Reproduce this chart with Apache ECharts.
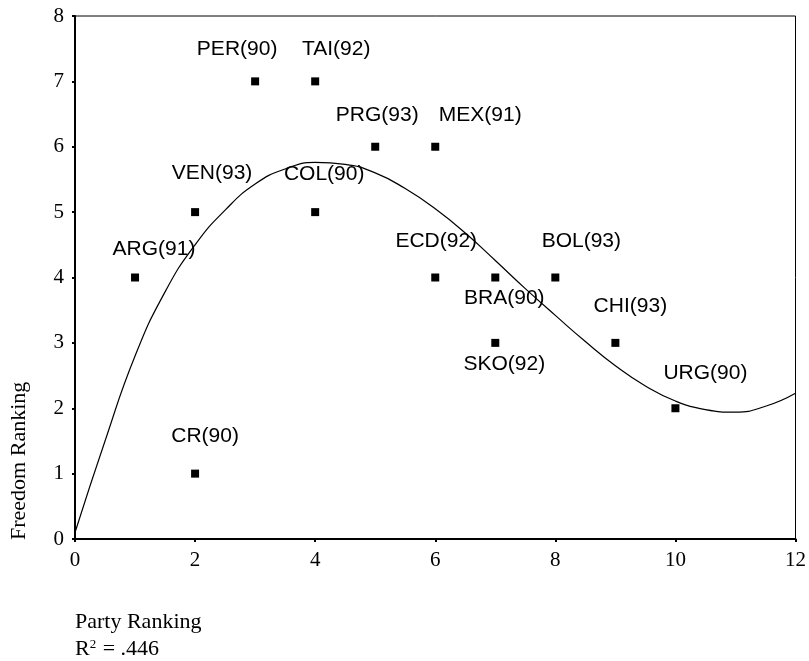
<!DOCTYPE html>
<html>
<head>
<meta charset="utf-8">
<script src="https://cdn.jsdelivr.net/npm/echarts@6/dist/echarts.min.js"></script>
<style>html,body{margin:0;padding:0;background:#fff}#c{width:809px;height:661px}</style>
</head>
<body>
<div id="c"></div>
<script>
// Data
const countries = ['ARG(91)','VEN(93)','CR(90)','PER(90)','TAI(92)','COL(90)','PRG(93)','MEX(91)','ECD(92)','BRA(90)','SKO(92)','BOL(93)','CHI(93)','URG(90)'];
const partyRanking = [1,2,2,3,4,4,5,6,6,7,7,8,9,10];
const freedomRanking = [4,5,1,7,7,5,6,6,4,4,3,4,3,2];
// Fitted curve
const curveX = [0,0.5,1,1.5,2,2.5,3,3.5,4,4.5,5,5.5,6,6.5,7,7.5,8,8.5,9,9.5,10,10.5,11,11.5,12];
const curveY = [0.1,1.5,2.8,3.78,4.5,5.03,5.43,5.66,5.76,5.73,5.6,5.36,5.05,4.68,4.26,3.83,3.42,3.02,2.65,2.34,2.11,1.98,1.94,2.03,2.23];
const xTicks = [0,2,4,6,8,10,12];
const yTicks = [0,1,2,3,4,5,6,7,8];
// label offsets (layout only)
const labelOffsets = [[19,-28],[17,-39],[10,-37],[-18,-32],[21,-32],[9,-38],[2,-32],[45,-32],[1,-36],[9,21],[9,21],[26,-36],[15,-37],[30,-35]];

const chart = echarts.init(document.getElementById('c'));
const pts = partyRanking.map((x,i)=>({
  value:[x, freedomRanking[i]],
  name: countries[i],
  label:{offset: labelOffsets[i]}
}));
chart.setOption({
  animation:false,
  backgroundColor:'#fff',
  grid:{left:75,right:12,top:16,bottom:122,show:true,borderColor:'#000',borderWidth:1,backgroundColor:'transparent'},
  xAxis:{
    type:'value',min:0,max:12,interval:2,
    axisLine:{show:true,onZero:false,lineStyle:{color:'#000',width:2}},
    axisTick:{show:true,length:3,lineStyle:{color:'#000',width:2}},
    splitLine:{show:false},
    axisLabel:{color:'#000',fontFamily:'Liberation Serif',fontSize:21,margin:11,
      formatter:v=>xTicks.includes(v)?String(v):''}
  },
  yAxis:{
    type:'value',min:0,max:8,interval:1,
    axisLine:{show:true,onZero:false,lineStyle:{color:'#000',width:2}},
    axisTick:{show:true,length:3,lineStyle:{color:'#000',width:2}},
    splitLine:{show:false},
    axisLabel:{color:'#000',fontFamily:'Liberation Serif',fontSize:21,margin:11,
      formatter:v=>yTicks.includes(v)?String(v):''}
  },
  graphic:[
    {type:'text',x:8,y:540,rotation:Math.PI/2,style:{text:'Freedom Ranking',fill:'#000',font:'22px "Liberation Serif"'}},
    {type:'text',x:75,y:611,style:{text:'Party Ranking',fill:'#000',font:'22px "Liberation Serif"'}},
    {type:'text',x:75,y:638,style:{rich:{n:{fontSize:22,fontFamily:'Liberation Serif',fill:'#000'},s:{fontSize:13,fontFamily:'Liberation Serif',fill:'#000',verticalAlign:'top',padding:[0,1,10,0]}},text:'{n|R}{s|2}{n| = .446}'}}
  ],
  series:[
    {
      type:'line',
      data:curveX.map((x,i)=>[x,curveY[i]]),
      smooth:0.5,
      showSymbol:false,
      lineStyle:{color:'#000',width:1.2},
      z:2
    },
    {
      type:'scatter',
      data:pts,
      symbol:'rect',
      symbolSize:8,
      itemStyle:{color:'#000',opacity:1},
      label:{show:true,position:'inside',formatter:p=>p.name,color:'#000',fontFamily:'Liberation Sans',fontSize:21},
      z:3
    }
  ]
});
</script>
</body>
</html>
